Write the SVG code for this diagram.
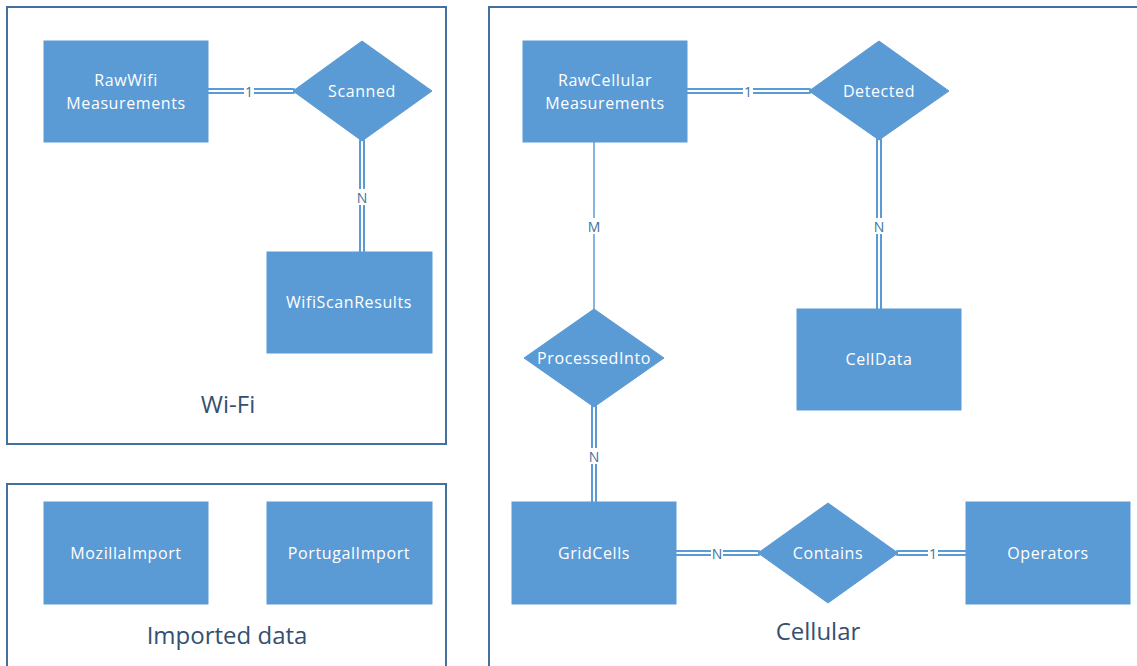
<svg xmlns="http://www.w3.org/2000/svg" width="1137" height="666" viewBox="0 0 1137 666">
<style>
.frame{fill:none;stroke:#41719C;stroke-width:2}
.ent{fill:#5B9BD5;stroke:#5B9BD5;stroke-width:1}
.ntext{font-family:"Open Sans","Liberation Sans",sans-serif;font-size:16px;letter-spacing:0.6px;fill:#FFFFFF;text-anchor:middle;dominant-baseline:central}
.ftext{font-family:"Open Sans","Liberation Sans",sans-serif;font-size:24px;fill:#34506F;text-anchor:middle}
.dbl{stroke:#5B9BD5;stroke-width:6;stroke-linecap:round;fill:none}
.dblin{stroke:#FFFFFF;stroke-width:2;fill:none}
.sgl{stroke:#5B9BD5;stroke-width:1.5;fill:none}
.lbl{font-family:"Open Sans","Liberation Sans",sans-serif;font-size:14px;fill:#41719C;text-anchor:middle;dominant-baseline:central}
.lblbg{fill:#FFFFFF}
</style>
<rect width="1137" height="666" fill="#FFFFFF"/>
<g id="frame-wifi"><rect class="frame" x="7" y="7" width="439" height="437"/><text class="ftext" x="228" y="413">Wi-Fi</text></g>
<g id="frame-imported"><rect class="frame" x="7" y="484" width="439" height="190"/><text class="ftext" x="227" y="644">Imported data</text></g>
<g id="frame-cellular"><rect class="frame" x="489" y="7" width="660" height="670"/><text class="ftext" x="818" y="640">Cellular</text></g>
<g id="connectors">
<line class="dbl" x1="208" y1="91" x2="293" y2="91"/><line class="dblin" x1="208" y1="91" x2="293" y2="91"/>
<rect class="lblbg" x="244" y="84" width="10" height="14"/><text class="lbl" x="249" y="91">1</text>
<line class="dbl" x1="362" y1="141" x2="362" y2="252"/><line class="dblin" x1="362" y1="141" x2="362" y2="252"/>
<rect class="lblbg" x="355" y="189" width="14" height="16"/><text class="lbl" x="362" y="197">N</text>
<line class="dbl" x1="687" y1="91" x2="809" y2="91"/><line class="dblin" x1="687" y1="91" x2="809" y2="91"/>
<rect class="lblbg" x="743" y="84" width="10" height="14"/><text class="lbl" x="748" y="91">1</text>
<line class="dbl" x1="879" y1="140" x2="879" y2="309"/><line class="dblin" x1="879" y1="140" x2="879" y2="309"/>
<rect class="lblbg" x="872" y="218" width="14" height="16"/><text class="lbl" x="879" y="226">N</text>
<line class="sgl" x1="594" y1="142" x2="594" y2="309"/>
<rect class="lblbg" x="586" y="218" width="16" height="16"/><text class="lbl" x="594" y="226">M</text>
<line class="dbl" x1="594" y1="407" x2="594" y2="502"/><line class="dblin" x1="594" y1="407" x2="594" y2="502"/>
<rect class="lblbg" x="587" y="448" width="14" height="16"/><text class="lbl" x="594" y="456">N</text>
<line class="dbl" x1="676" y1="553" x2="758" y2="553"/><line class="dblin" x1="676" y1="553" x2="758" y2="553"/>
<rect class="lblbg" x="711" y="546" width="12" height="14"/><text class="lbl" x="717" y="553">N</text>
<line class="dbl" x1="898" y1="553" x2="966" y2="553"/><line class="dblin" x1="898" y1="553" x2="966" y2="553"/>
<rect class="lblbg" x="928" y="546" width="10" height="14"/><text class="lbl" x="933" y="553">1</text>
</g>
<g id="RawWifiMeasurements"><rect class="ent" x="44" y="41" width="164" height="101"/><text class="ntext" x="126" y="80">RawWifi</text><text class="ntext" x="126" y="103">Measurements</text></g>
<g id="Scanned"><polygon class="ent" points="362,41 432,91 362,141 293,91"/><text class="ntext" x="362" y="91">Scanned</text></g>
<g id="WifiScanResults"><rect class="ent" x="267" y="252" width="165" height="101"/><text class="ntext" x="349" y="302">WifiScanResults</text></g>
<g id="MozillaImport"><rect class="ent" x="44" y="502" width="164" height="102"/><text class="ntext" x="126" y="553">MozillaImport</text></g>
<g id="PortugalImport"><rect class="ent" x="267" y="502" width="165" height="102"/><text class="ntext" x="349" y="553">PortugalImport</text></g>
<g id="RawCellularMeasurements"><rect class="ent" x="523" y="41" width="164" height="101"/><text class="ntext" x="605" y="80">RawCellular</text><text class="ntext" x="605" y="103">Measurements</text></g>
<g id="Detected"><polygon class="ent" points="879,41 949,91 879,140 809,91"/><text class="ntext" x="879" y="91">Detected</text></g>
<g id="CellData"><rect class="ent" x="797" y="309" width="164" height="101"/><text class="ntext" x="879" y="359">CellData</text></g>
<g id="ProcessedInto"><polygon class="ent" points="594,309 664,358 594,407 524,358"/><text class="ntext" x="594" y="358">ProcessedInto</text></g>
<g id="GridCells"><rect class="ent" x="512" y="502" width="164" height="102"/><text class="ntext" x="594" y="553">GridCells</text></g>
<g id="Contains"><polygon class="ent" points="828,503 898,553 828,603 758,553"/><text class="ntext" x="828" y="553">Contains</text></g>
<g id="Operators"><rect class="ent" x="966" y="502" width="164" height="102"/><text class="ntext" x="1048" y="553">Operators</text></g>
</svg>
